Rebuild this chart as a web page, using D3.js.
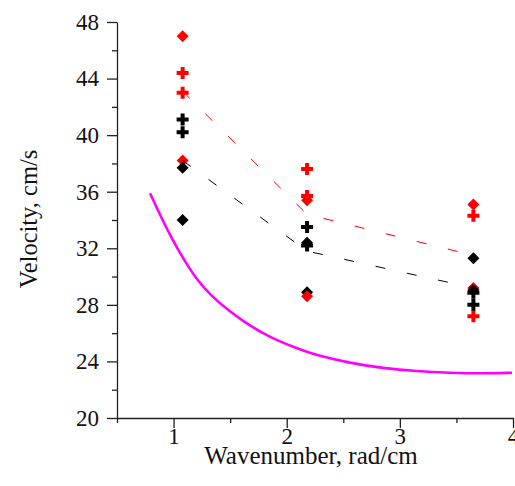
<!DOCTYPE html>
<html>
<head>
<meta charset="utf-8">
<script src="https://cdn.jsdelivr.net/npm/d3@7"></script>
<style>
  html, body { margin: 0; padding: 0; background: #fff; }
  svg { display: block; }
  text { font-family: "Liberation Serif", "Times New Roman", serif; fill: #111; }
</style>
</head>
<body>
<svg id="chart" width="515" height="486"></svg>
<script>
// ---- data ----
const xPositions = [1.08, 2.18, 3.65];
const redDiamondA = [38.2, 35.4, 29.2];
const redPlusA = [44.4, 37.6, 34.3];
const redPlusB = [43.0, 35.7, 27.2];
const blackDiamondA = [37.7, 32.4, 31.3];
const blackDiamondB = [34.0, 28.9, 29.05];
const blackPlusA = [41.1, 33.5, 28.85];
const blackPlusB = [40.2, 32.2, 28.0];
const redDiamondB = [47.0, 28.6, 35.1];
const redMean = [43.1, 34.4, 31.5];
const blackMean = [38.2, 31.8, 29.2];
const curveX = [0.792, 0.895, 0.983, 1.101, 1.219, 1.337, 1.484, 1.631, 1.779, 1.926, 2.073, 2.191, 2.268, 2.559, 2.851, 3.152, 3.443, 3.735, 3.991];
const curveY = [35.89, 34.12, 32.71, 31.05, 29.64, 28.62, 27.60, 26.76, 26.03, 25.45, 24.98, 24.65, 24.45, 23.88, 23.52, 23.30, 23.19, 23.15, 23.20];
const xMajorTicks = [1, 2, 3, 4];
const xMinorTicks = [0.5, 1.5, 2.5, 3.5];
const yMajorTicks = [20, 24, 28, 32, 36, 40, 44, 48];
const yMinorTicks = [22, 26, 30, 34, 38, 42, 46];
const xTitle = "Wavenumber, rad/cm";
const yTitle = "Velocity, cm/s";

// ---- chart ----
const svg = d3.select("#chart");
const x = d3.scaleLinear().domain([0.5, 4]).range([117, 513]);
const y = d3.scaleLinear().domain([20, 48]).range([418, 22]);

function styleAxis(g) {
  g.attr("font-family", null);
  g.selectAll("path.domain").attr("stroke", "#222").attr("stroke-width", 1.3);
  g.selectAll(".tick line").attr("stroke", "#222").attr("stroke-width", 1.3);
  g.selectAll("text").attr("fill", "#111");
}

// x axis
const gx = svg.append("g").attr("transform", `translate(0,${y(20)})`);
gx.call(d3.axisBottom(x).tickValues(xMajorTicks).tickSize(10).tickSizeOuter(0).tickPadding(0).tickFormat(d3.format("d")))
  .call(g => g.selectAll("text").style("font-size", "23px"));
gx.call(styleAxis);
svg.append("g").attr("transform", `translate(0,${y(20)})`)
  .call(d3.axisBottom(x).tickValues(xMinorTicks).tickSize(5).tickSizeOuter(0).tickFormat(""))
  .call(g => g.select("path.domain").remove())
  .call(styleAxis);

// y axis
const gy = svg.append("g").attr("transform", `translate(${x(0.5)},0)`);
gy.call(d3.axisLeft(y).tickValues(yMajorTicks).tickSize(10).tickSizeOuter(0).tickPadding(8).tickFormat(d3.format("d")))
  .call(g => g.selectAll("text").style("font-size", "23px"));
gy.call(styleAxis);
svg.append("g").attr("transform", `translate(${x(0.5)},0)`)
  .call(d3.axisLeft(y).tickValues(yMinorTicks).tickSize(5).tickSizeOuter(0).tickFormat(""))
  .call(g => g.select("path.domain").remove())
  .call(styleAxis);

// titles
svg.append("text").attr("x", 311).attr("y", 464).attr("text-anchor", "middle")
  .style("font-size", "25px").text(xTitle);
svg.append("text").attr("transform", `translate(37,${(y(20) + y(48)) / 2 - 1}) rotate(-90)`)
  .attr("text-anchor", "middle").style("font-size", "24.5px").text(yTitle);

// magenta curve
const curveData = curveX.map((d, i) => [d, curveY[i]]);
svg.append("path").datum(curveData)
  .attr("fill", "none").attr("stroke", "#ff00ff").attr("stroke-width", 2.6)
  .attr("d", d3.line().x(d => x(d[0])).y(d => y(d[1])).curve(d3.curveBasis));

// markers
const diamond = d3.symbol().type(d3.symbolSquare).size(72)();
const cross = d3.symbol().type(d3.symbolCross).size(80)();
function drawSeries(vals, color, shape) {
  const isDiamond = shape === "diamond";
  svg.append("g").selectAll("path").data(vals).join("path")
    .attr("d", isDiamond ? diamond : cross)
    .attr("fill", color)
    .attr("transform", (d, i) => `translate(${x(xPositions[i])},${y(d)})${isDiamond ? " rotate(45)" : ""}`);
}
drawSeries(redDiamondA, "#ff0000", "diamond");
drawSeries(redPlusA, "#ff0000", "plus");
drawSeries(redPlusB, "#ff0000", "plus");
drawSeries(blackDiamondA, "#000000", "diamond");
drawSeries(blackDiamondB, "#000000", "diamond");
drawSeries(blackPlusA, "#000000", "plus");
drawSeries(blackPlusB, "#000000", "plus");
drawSeries(redDiamondB, "#ff0000", "diamond");

// mean dashed lines
const lineGen = d3.line().x((d, i) => x(xPositions[i])).y(d => y(d));
svg.append("path").datum(redMean).attr("fill", "none").attr("stroke", "#ff0000")
  .attr("stroke-width", 1).attr("stroke-dasharray", "10,22").attr("d", lineGen);
svg.append("path").datum(blackMean).attr("fill", "none").attr("stroke", "#000")
  .attr("stroke-width", 1).attr("stroke-dasharray", "10,22").attr("d", lineGen);
</script>
</body>
</html>
